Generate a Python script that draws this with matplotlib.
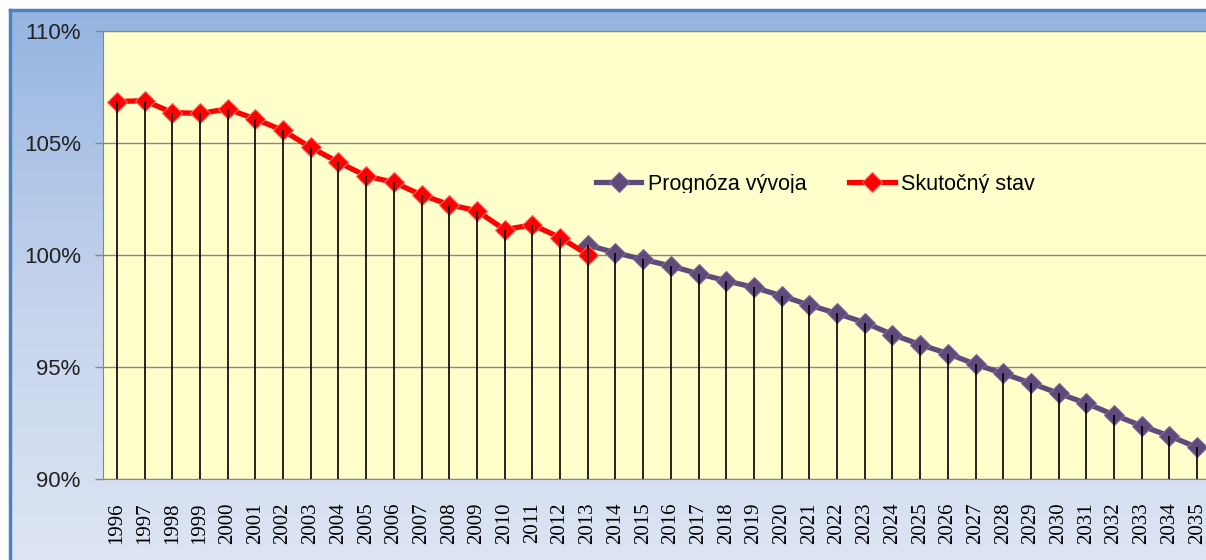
import numpy as np
import matplotlib
matplotlib.use("Agg")
import matplotlib.pyplot as plt
from matplotlib.colors import LinearSegmentedColormap
from matplotlib.transforms import Bbox, TransformedBbox

roky = ['1996', '1997', '1998', '1999', '2000', '2001', '2002', '2003', '2004', '2005',
        '2006', '2007', '2008', '2009', '2010', '2011', '2012', '2013', '2014', '2015',
        '2016', '2017', '2018', '2019', '2020', '2021', '2022', '2023', '2024', '2025',
        '2026', '2027', '2028', '2029', '2030', '2031', '2032', '2033', '2034', '2035']

# skutocny stav 1996-2013
skutocny = [106.85, 106.89, 106.36, 106.32, 106.52, 106.07, 105.56, 104.8, 104.14, 103.53,
            103.24, 102.68, 102.25, 101.97, 101.13, 101.35, 100.78, 100.02]

# prognoza 2013-2035
prognoza = [100.44, 100.1, 99.8, 99.51, 99.16, 98.85, 98.55, 98.18, 97.76, 97.39,
            96.98, 96.45, 96.0, 95.6, 95.12, 94.71, 94.28, 93.82, 93.38, 92.86,
            92.37, 91.92, 91.41]

n = len(roky)
x = np.arange(n)
skut = np.full(n, np.nan)
skut[:len(skutocny)] = skutocny
prog = np.full(n, np.nan)
prog[n - len(prognoza):] = prognoza
vrch = np.fmax(skut, prog)

W, H = 1206, 560
fig = plt.figure(figsize=(W / 100, H / 100), dpi=100, facecolor='white')

# modre pozadie s gradientom
bg = fig.add_axes([10 / W, 0, 1 - 10 / W, (H - 10) / H], zorder=0)
cmap = LinearSegmentedColormap.from_list('bg', ['#dde5f3', '#c3d2ec', '#95b4e1'])
grad = np.linspace(0, 1, 256).reshape(-1, 1)
bg.imshow(grad, aspect='auto', cmap=cmap, origin='lower', extent=[0, 1, 0, 1])
bg.set_xticks([])
bg.set_yticks([])
for s in ['right', 'bottom']:
    bg.spines[s].set_visible(False)
for s in ['left', 'top']:
    bg.spines[s].set_color('#4f81bd')
    bg.spines[s].set_linewidth(2.5)

ax = fig.add_axes([103 / W, (H - 479) / H, 1108 / W, 448 / H], zorder=1)
ax.set_facecolor('#ffffcc')

ax.plot(x, prog, color='#604a7b', linewidth=3.8, marker='D', markersize=10.5,
        markeredgecolor='#7d6a94', markeredgewidth=0.8, label='Prognóza vývoja', zorder=3)
ax.plot(x, skut, color='#ff0000', linewidth=3.8, marker='D', markersize=10.5,
        markeredgecolor='#ff6666', markeredgewidth=0.8, label='Skutočný stav', zorder=4)
ax.vlines(x, 90, vrch, color='black', linewidth=1.2, zorder=5)

ax.set_xlim(-0.5, n - 0.5)
ax.set_ylim(90, 110)
ax.set_yticks([90, 95, 100, 105, 110])
ax.set_yticklabels(['90%', '95%', '100%', '105%', '110%'], fontsize=16,
                   family='Liberation Sans', color='#222222')
ax.set_xticks(x)
ax.set_xticklabels(roky, rotation=90, fontsize=15, family='Liberation Serif',
                   va='top', ha='center')
ax.tick_params(axis='x', length=0, pad=17)
ax.tick_params(axis='y', length=6, width=1, color='#868686', pad=10)
ax.yaxis.grid(True, color='#868686', linewidth=1)
ax.set_axisbelow(True)
for s in ['left', 'bottom', 'top']:
    ax.spines[s].set_color('#868686')
ax.spines['right'].set_visible(False)

leg = ax.legend(loc='center', bbox_to_anchor=(0.643, 0.658), ncol=2, frameon=False,
                prop={'family': 'Liberation Sans', 'size': 15.5}, handlelength=2.1,
                handletextpad=0.3, columnspacing=2.0)
# text legendy je v originale orezany zdola
clip = TransformedBbox(Bbox([[0, (H - 193) / H], [1, 1]]), fig.transFigure)
for t in leg.get_texts():
    t.set_clip_box(clip)
    t.set_clip_on(True)

fig.savefig('out.png', dpi=100)
